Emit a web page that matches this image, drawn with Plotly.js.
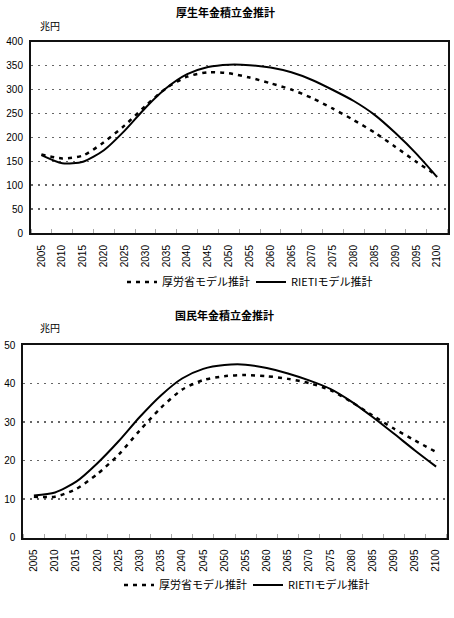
<!DOCTYPE html>
<html><head><meta charset="utf-8">
<script src="https://cdn.plot.ly/plotly-3.0.1.min.js"></script>
<style>html,body{margin:0;padding:0;background:#fff;}#chart{width:454px;height:618px;}</style>
</head><body><div id="chart"></div>
<script>
const years = [2005,2010,2015,2020,2025,2030,2035,2040,2045,2050,2055,2060,2065,2070,2075,2080,2085,2090,2095,2100];
const tickLabels = years.map(String);
const koseiMhlw  = [164,156,162,190,225,266,303,327,336,334,325,313,300,282,260,236,210,180,149,120];
const koseiRieti = [163,146,149,173,214,262,303,332,347,352,351,346,336,320,299,276,247,209,166,117];
const kokuminMhlw  = [10.6,10.6,12.6,16.5,21.5,27.8,33.7,38.4,40.9,41.9,42.2,41.9,41.2,40.1,38.3,35.2,31.7,28.3,25.2,22.2];
const kokuminRieti = [10.9,11.7,14.5,19.3,25.0,31.3,36.9,41.3,43.8,44.8,44.9,44.0,42.6,40.8,38.6,35.3,31.3,27.0,22.6,18.4];
const seriesNames = ['厚労省モデル推計','RIETIモデル推計'];
const chartTitles = ['厚生年金積立金推計','国民年金積立金推計'];
const unitLabel = '兆円';

const W = 454, H = 618;
const FONT = 'Liberation Sans, Arial, Noto Sans CJK JP, sans-serif';
const JFONT = 'Noto Sans CJK JP, sans-serif';
const dashStyle = {color:'#000', width:2.5, dash:'4px,5px', shape:'spline', smoothing:0.7};
const solidStyle = {color:'#000', width:2, shape:'spline', smoothing:0.7};

const traces = [
  {x:years, y:koseiMhlw, name:seriesNames[0], mode:'lines', line:dashStyle, xaxis:'x', yaxis:'y', legend:'legend'},
  {x:years, y:koseiRieti, name:seriesNames[1], mode:'lines', line:solidStyle, xaxis:'x', yaxis:'y', legend:'legend'},
  {x:years, y:kokuminMhlw, name:seriesNames[0], mode:'lines', line:dashStyle, xaxis:'x2', yaxis:'y2', legend:'legend2'},
  {x:years, y:kokuminRieti, name:seriesNames[1], mode:'lines', line:solidStyle, xaxis:'x2', yaxis:'y2', legend:'legend2'}
];

const minorVals = years.map(y => y - 2.5).concat([2102.5]);
function xax(domain, anchor){
  return {domain:domain, anchor:anchor, range:[2002.5,2102.5], tickmode:'array', tickvals:years, ticktext:tickLabels,
    tickangle:-90, tickfont:{family:FONT, size:10, color:'#000'}, showgrid:false, zeroline:false,
    showline:true, linewidth:2, linecolor:'#111', mirror:true, ticks:'', ticklabelstandoff:6,
    minor:{tickmode:'array', tickvals:minorVals, ticks:'inside', ticklen:4, tickcolor:'#aaa', showgrid:false}};
}
function yax(domain, anchor, range, dtick){
  return {domain:domain, anchor:anchor, range:range, dtick:dtick, tick0:0, tickfont:{family:FONT, size:10, color:'#000'},
    showgrid:true, gridcolor:'#666', griddash:'2px,5px', gridwidth:1.5, zeroline:false,
    showline:true, linewidth:2, linecolor:'#111', mirror:true, ticks:'', ticklabelstandoff:4};
}
const legendBase = {orientation:'h', xanchor:'center', yanchor:'middle', font:{family:JFONT, size:11, color:'#000'},
  bgcolor:'rgba(0,0,0,0)', itemwidth:30, tracegroupgap:0, entrywidth:84, entrywidthmode:'pixels'};

const layout = {
  width:W, height:H, margin:{l:0,r:0,t:0,b:0}, paper_bgcolor:'#fff', plot_bgcolor:'#fff',
  xaxis: xax([31/W, 447.5/W], 'y'),
  yaxis: yax([1-233/H, 1-41.7/H], 'x', [0,400], 50),
  xaxis2: xax([23.3/W, 446.7/W], 'y2'),
  yaxis2: yax([1-537.5/H, 1-345/H], 'x2', [0,50], 10),
  legend: Object.assign({}, legendBase, {x:251/W, y:1-282/H}),
  legend2: Object.assign({}, legendBase, {x:248/W, y:1-585/H}),
  annotations: [
    {text:'<b>'+chartTitles[0]+'</b>', xref:'paper', yref:'paper', x:225/W, y:1-12/H, showarrow:false, font:{family:JFONT, size:11, color:'#000'}, xanchor:'center', yanchor:'middle'},
    {text:unitLabel, xref:'paper', yref:'paper', x:38/W, y:1-25/H, showarrow:false, font:{family:JFONT, size:10, color:'#000'}, xanchor:'left', yanchor:'middle'},
    {text:'<b>'+chartTitles[1]+'</b>', xref:'paper', yref:'paper', x:224/W, y:1-315/H, showarrow:false, font:{family:JFONT, size:11, color:'#000'}, xanchor:'center', yanchor:'middle'},
    {text:unitLabel, xref:'paper', yref:'paper', x:38/W, y:1-327/H, showarrow:false, font:{family:JFONT, size:10, color:'#000'}, xanchor:'left', yanchor:'middle'}
  ]
};
Plotly.newPlot('chart', traces, layout, {displayModeBar:false, staticPlot:true});
</script></body></html>
